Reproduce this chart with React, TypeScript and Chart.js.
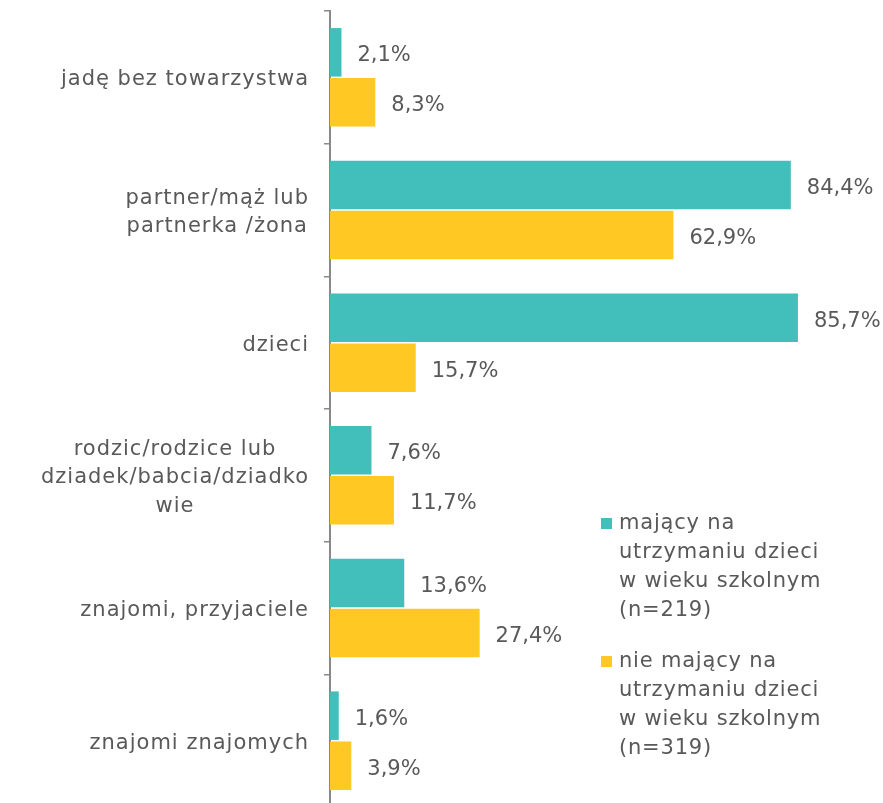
import React, { useEffect, useRef } from "react";
import { Chart, registerables } from "chart.js";

Chart.register(...registerables);

// ---- data ----
const categoryLines: string[][] = [
  ["jadę bez towarzystwa"],
  ["partner/mąż lub", "partnerka /żona"],
  ["dzieci"],
  ["rodzic/rodzice lub", "dziadek/babcia/dziadko", "wie"],
  ["znajomi, przyjaciele"],
  ["znajomi znajomych"],
];
const categories: string[] = categoryLines.map((l) => l.join(" "));

const seriesNames: string[][] = [
  ["mający na", "utrzymaniu dzieci", "w wieku szkolnym", "(n=219)"],
  ["nie mający na", "utrzymaniu dzieci", "w wieku szkolnym", "(n=319)"],
];
const withSchoolChildren: number[] = [2.1, 84.4, 85.7, 7.6, 13.6, 1.6];
const withoutSchoolChildren: number[] = [8.3, 62.9, 15.7, 11.7, 27.4, 3.9];

const xMin = 0;
const xMax = 100;

// ---- styles ----
const TEAL = "#42BEBB";
const YELLOW = "#FFC822";
const TEXT = "#595959";
const AXIS = "#898989";
const FONT_FAMILY = '"DejaVu Sans", sans-serif';

const fmt = (v: number) => v.toFixed(1).replace(".", ",") + "%";

const categoryLabelPlugin = {
  id: "categoryLabels",
  afterDraw(chart: any) {
    const ctx = chart.ctx as CanvasRenderingContext2D;
    const yScale = chart.scales.y;
    const area = chart.chartArea;
    ctx.save();
    ctx.font = `21px ${FONT_FAMILY}`;
    (ctx as any).letterSpacing = "1px";
    ctx.fillStyle = TEXT;
    ctx.textAlign = "center";
    ctx.textBaseline = "alphabetic";
    const right = area.left - 21;
    categoryLines.forEach((lines, i) => {
      const cy = yScale.getPixelForValue(i);
      const w = Math.max(...lines.map((l) => ctx.measureText(l).width));
      const cx = right - w / 2;
      lines.forEach((l, k) => {
        ctx.fillText(l, cx, cy + 8 + (k - (lines.length - 1) / 2) * 28.5);
      });
    });
    ctx.restore();
  },
};

const dataLabelPlugin = {
  id: "dataLabels",
  afterDatasetsDraw(chart: any) {
    const ctx = chart.ctx as CanvasRenderingContext2D;
    ctx.save();
    ctx.font = `21px ${FONT_FAMILY}`;
    ctx.fillStyle = TEXT;
    ctx.textAlign = "left";
    ctx.textBaseline = "alphabetic";
    chart.data.datasets.forEach((ds: any, i: number) => {
      const meta = chart.getDatasetMeta(i);
      meta.data.forEach((bar: any, j: number) => {
        ctx.fillText(fmt(ds.data[j]), bar.x + 16, bar.y + 9);
      });
    });
    ctx.restore();
  },
};

const legendPlugin = {
  id: "customLegend",
  afterDraw(chart: any) {
    const ctx = chart.ctx as CanvasRenderingContext2D;
    const area = chart.chartArea;
    const colors = [TEAL, YELLOW];
    const baseTops = [529, 667];
    const sqX = area.right - 275;
    const textX = sqX + 18;
    ctx.save();
    ctx.font = `21px ${FONT_FAMILY}`;
    (ctx as any).letterSpacing = "0.8px";
    ctx.textAlign = "left";
    ctx.textBaseline = "alphabetic";
    seriesNames.forEach((lines, i) => {
      const b0 = baseTops[i];
      ctx.fillStyle = colors[i];
      ctx.fillRect(sqX, b0 - 11, 11, 11);
      ctx.fillStyle = TEXT;
      lines.forEach((l, k) => ctx.fillText(l, textX, b0 + k * 29));
    });
    ctx.restore();
  },
};

export default function App() {
  const canvasRef = useRef<HTMLCanvasElement | null>(null);

  useEffect(() => {
    if (!canvasRef.current) return;
    const chart = new Chart(canvasRef.current, {
      type: "bar",
      data: {
        labels: categories,
        datasets: [
          {
            label: seriesNames[0].join(" "),
            data: withSchoolChildren,
            backgroundColor: TEAL,
            categoryPercentage: 0.754,
            barPercentage: 0.97,
          },
          {
            label: seriesNames[1].join(" "),
            data: withoutSchoolChildren,
            backgroundColor: YELLOW,
            categoryPercentage: 0.754,
            barPercentage: 0.97,
          },
        ],
      },
      options: {
        indexAxis: "y",
        responsive: false,
        animation: false,
        layout: { padding: { left: 324, right: 7, top: 11, bottom: 0 } },
        scales: {
          x: { display: false, min: xMin, max: xMax },
          y: {
            offset: true,
            grid: {
              display: true,
              offset: true,
              drawOnChartArea: false,
              drawTicks: true,
              tickLength: 6,
              color: AXIS,
              lineWidth: 1.5,
            },
            border: { display: true, color: AXIS, width: 2 },
            ticks: { display: false },
          },
        },
        plugins: {
          legend: { display: false },
          tooltip: { enabled: false },
        },
      },
      plugins: [dataLabelPlugin, categoryLabelPlugin, legendPlugin],
    } as any);
    return () => chart.destroy();
  }, []);

  return (
    <div
      style={{
        position: "absolute",
        left: 0,
        top: 0,
        width: 883,
        height: 803,
        overflow: "hidden",
        background: "#fff",
      }}
    >
      <canvas ref={canvasRef} width={883} height={807} style={{ display: "block" }} />
    </div>
  );
}
